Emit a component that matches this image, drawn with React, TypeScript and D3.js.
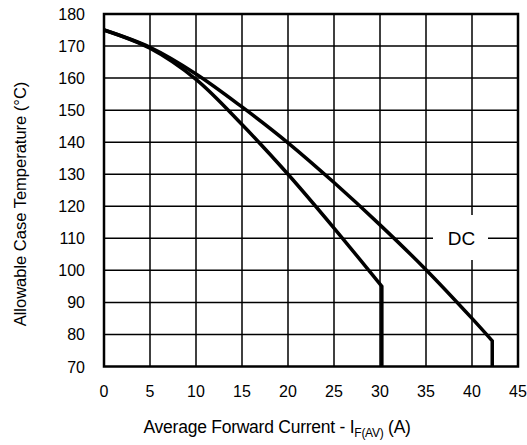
import { useMemo } from 'react'
import * as d3 from 'd3'

// axis ticks
const xTicks = [0, 5, 10, 15, 20, 25, 30, 35, 40, 45]
const yTicks = [70, 80, 90, 100, 110, 120, 130, 140, 150, 160, 170, 180]

// DC derating curve (A, °C)
const dcCurrent = [0, 5, 10, 15, 20, 25, 30, 35, 40, 42.2]
const dcTemp = [175, 169.6, 161.3, 151, 139.8, 127.4, 114.2, 100.2, 85, 78]

// second curve
const sqCurrent = [0, 5, 10, 15, 20, 25, 30.2]
const sqTemp = [175, 169.3, 159.6, 145.5, 130, 113.2, 95]

const W = 527
const H = 445
const M = { left: 104, right: 518, top: 14, bottom: 366.5 }
const FONT = '"Liberation Sans", Arial, Helvetica, sans-serif'

const App = () => {
    const x = useMemo(() => d3.scaleLinear().domain([0, 45]).range([M.left, M.right]), [])
    const y = useMemo(() => d3.scaleLinear().domain([70, 180]).range([M.bottom, M.top]), [])

    const line = d3
        .line<[number, number]>()
        .x((d) => x(d[0]))
        .y((d) => y(d[1]))
        .curve(d3.curveCatmullRom.alpha(0.5))

    const curvePath = (xs: number[], ys: number[]) => {
        const pts = xs.map((v, i) => [v, ys[i]] as [number, number])
        const last = pts[pts.length - 1]
        // curve then straight drop to the axis
        return `${line(pts)}L${x(last[0])},${y(70)}`
    }

    return (
        <svg
            width={W}
            height={H}
            style={{ position: 'absolute', left: 0, top: 0, background: '#fff' }}
            fontFamily={FONT}
        >
            {/* grid */}
            <g stroke="#000" strokeWidth={1.5}>
                {xTicks.slice(1, -1).map((t) => (
                    <line key={'vx' + t} x1={x(t)} x2={x(t)} y1={M.top} y2={M.bottom} />
                ))}
                {yTicks.slice(1, -1).map((t) => (
                    <line key={'hy' + t} x1={M.left} x2={M.right} y1={y(t)} y2={y(t)} />
                ))}
            </g>

            {/* DC label with white box */}
            <rect x={433} y={215} width={55} height={45} fill="#fff" />
            <text x={461.5} y={245} fontSize={19} textAnchor="middle" fill="#000">
                DC
            </text>

            {/* frame */}
            <rect
                x={M.left}
                y={M.top}
                width={M.right - M.left}
                height={M.bottom - M.top}
                fill="none"
                stroke="#000"
                strokeWidth={2.5}
            />

            {/* curves */}
            <g fill="none" stroke="#000" strokeWidth={3.5} strokeLinejoin="miter">
                <path d={curvePath(dcCurrent, dcTemp)} />
                <path d={curvePath(sqCurrent, sqTemp)} />
            </g>

            {/* tick labels */}
            <g fontSize={16} fill="#000">
                {yTicks.map((t) => (
                    <text key={'yl' + t} x={85} y={y(t) + 6} textAnchor="end">
                        {t}
                    </text>
                ))}
                {xTicks.map((t) => (
                    <text key={'xl' + t} x={x(t)} y={397} textAnchor="middle">
                        {t}
                    </text>
                ))}
            </g>

            {/* axis titles */}
            <text x={143.5} y={433} fontSize={17.5} fill="#000" letterSpacing={-0.25}>
                Average Forward Current - I
                <tspan fontSize={12} dy={4}>
                    F(AV)
                </tspan>
                <tspan dy={-4}> (A)</tspan>
            </text>
            <text
                transform="translate(26,204) rotate(-90)"
                fontSize={16.5}
                textAnchor="middle"
                fill="#000"
            >
                Allowable Case Temperature (°C)
            </text>
        </svg>
    )
}

export default App
